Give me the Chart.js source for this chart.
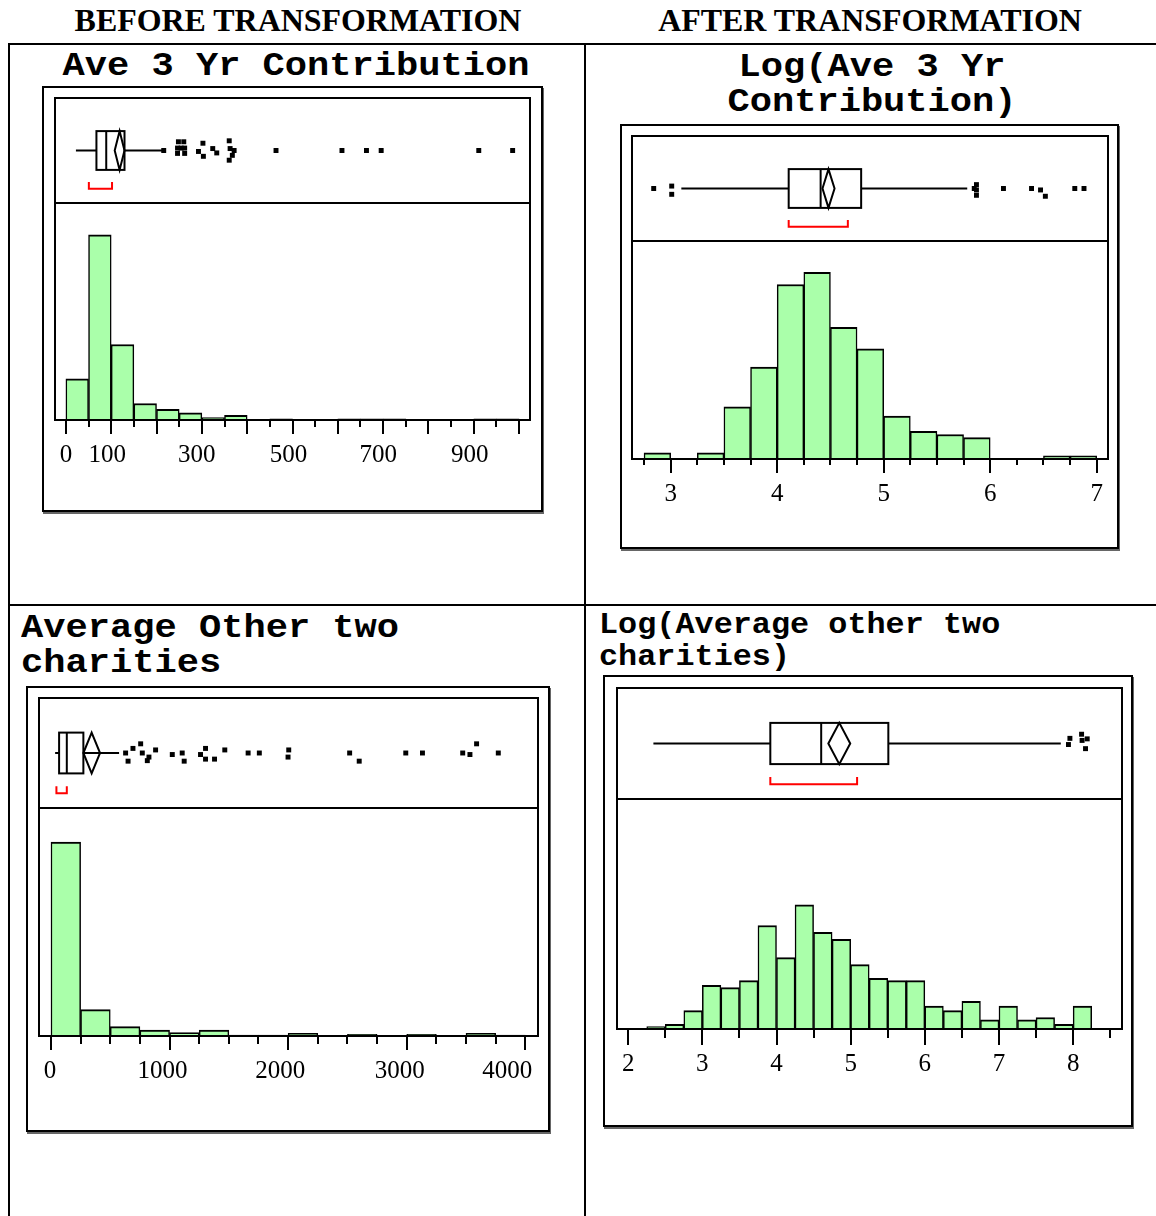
<!DOCTYPE html>
<html>
<head>
<meta charset="utf-8">
<title>Before / after log transformation</title>
<script src="https://cdn.jsdelivr.net/npm/chart.js@4.4.1/dist/chart.umd.min.js"></script>
<style>
  html, body { margin: 0; padding: 0; background: #fff; }
  body { width: 1156px; height: 1216px; position: relative; overflow: hidden; }
  .rule { position: absolute; background: #000; }
  .head { position: absolute; width: 600px; text-align: center; white-space: nowrap;
          font: bold 31px/31px 'Liberation Serif', 'Times New Roman', serif; transform: scaleX(1.03); }
  .title { position: absolute; white-space: pre; font-family: 'Liberation Mono', 'Courier New', monospace;
           font-weight: bold; color: #000; }
  .frame { position: absolute; box-sizing: border-box; border: 2px solid #000; box-shadow: 1px 2px 0 #666; }
  .plotbox { position: absolute; box-sizing: border-box; border: 2px solid #000; }
  canvas { position: absolute; }
</style>
</head>
<body>

<!-- table rules -->
<div class="rule" style="left:8px;top:43px;width:1148px;height:2px"></div>
<div class="rule" style="left:8px;top:43px;width:2px;height:1173px"></div>
<div class="rule" style="left:584px;top:43px;width:2px;height:1173px"></div>
<div class="rule" style="left:8px;top:604px;width:1148px;height:2px"></div>

<!-- column headings -->
<div class="head" style="left:-2px;top:5px">BEFORE TRANSFORMATION</div>
<div class="head" style="left:570px;top:5px">AFTER TRANSFORMATION</div>

<!-- panel titles -->
<div class="title" style="left:-4px;top:49px;width:600px;text-align:center;font-size:34px;line-height:34px;transform:scaleX(1.09)">Ave 3 Yr Contribution</div>
<div class="title" style="left:572px;top:50px;width:600px;text-align:center;font-size:34px;line-height:35px;transform:scaleX(1.09)">Log(Ave 3 Yr
Contribution)</div>
<div class="title" style="left:21px;top:611px;font-size:34px;line-height:35px;transform-origin:0 0;transform:scaleX(1.09)">Average Other two
charities</div>
<div class="title" style="left:599px;top:610px;font-size:29px;line-height:32px;transform-origin:0 0;transform:scaleX(1.098)">Log(Average other two
charities)</div>

<div id="panels"></div>

<script>
// ---------- Ave 3 Yr Contribution ----------
const ave3BinWidth = 50;
const ave3BinStarts = [0, 50, 100, 150, 200, 250, 300, 350, 400, 450, 500, 550, 600, 650, 700, 750, 800, 850, 900, 950];
const ave3Counts    = [35, 157, 64, 14, 9, 6, 2, 4, 0, 1, 0, 0, 1, 1, 1, 0, 0, 0, 1, 1];
const ave3Summary   = [14, 60, 82, 123, 210];          // whisker low, Q1, median, Q3, whisker high
const ave3Diamond   = [101, 112, 123];                 // mean CI low, mean, CI high
const ave3Shortest  = [43, 95];                        // shortest half
const ave3OutX      = [211, 244, 256, 242, 258, 242, 258, 250, 299, 289, 300, 321, 330, 358, 360, 369, 365, 358, 463, 611, 666, 699, 918, 994];
const ave3OutJitter = [0, 0.18, 0.18, 0.05, 0.05, -0.06, -0.06, 0.05, 0.15, -0.02, -0.12, 0.04, -0.05, 0.2, 0.04, 0, -0.1, -0.2, 0, 0, 0, 0, 0, 0];
const ave3Labels    = [0, 100, 300, 500, 700, 900];
const ave3Major     = [0, 100, 200, 300, 400, 500, 600, 700, 800, 900, 1000];
const ave3Minor     = [50, 150, 250, 350, 450, 550, 650, 750, 850, 950];

// ---------- Log(Ave 3 Yr Contribution) ----------
const logAve3BinWidth = 0.25;
const logAve3BinStarts = [2.75, 3, 3.25, 3.5, 3.75, 4, 4.25, 4.5, 4.75, 5, 5.25, 5.5, 5.75, 6, 6.25, 6.5, 6.75];
const logAve3Counts    = [2, 0, 2, 17, 30, 57, 61, 43, 36, 14, 9, 8, 7, 0, 0, 1, 1];
const logAve3Summary   = [3.07, 4.095, 4.40, 4.787, 5.80];
const logAve3Diamond   = [4.418, 4.475, 4.533];
const logAve3Shortest  = [4.095, 4.66];
const logAve3OutX      = [2.806, 2.978, 2.978, 5.888, 5.867, 5.888, 5.888, 6.146, 6.414, 6.50, 6.546, 6.827, 6.915];
const logAve3OutJitter = [0, 0.05, -0.12, 0.08, 0, -0.03, -0.14, 0, 0, -0.03, -0.16, 0, 0];
const logAve3Labels    = [3, 4, 5, 6, 7];
const logAve3Major     = [3, 4, 5, 6, 7];
const logAve3Minor     = [2.75, 3.25, 3.5, 3.75, 4.25, 4.5, 4.75, 5.25, 5.5, 5.75, 6.25, 6.5, 6.75];

// ---------- Average Other two charities ----------
const other2BinWidth = 250;
const other2BinStarts = [0, 250, 500, 750, 1000, 1250, 1500, 1750, 2000, 2250, 2500, 2750, 3000, 3250, 3500, 3750];
const other2Counts    = [228, 31, 11, 7, 4, 7, 1, 1, 3, 0, 2, 0, 2, 0, 3, 1];
const other2Summary   = [3, 37, 103, 245, 551];
const other2Diamond   = [245, 316, 388];
const other2Shortest  = [14, 103];
const other2OutX      = [607, 628, 670, 736, 750, 793, 807, 864, 1007, 1092, 1109, 1249, 1292, 1292, 1369, 1457, 1657, 1753, 2005, 1999, 2527, 2609, 3008, 3151, 3496, 3558, 3615, 3801];
const other2OutJitter = [0, -0.16, 0.09, 0.18, 0, -0.15, -0.08, 0.06, -0.03, 0, -0.16, -0.03, 0.09, -0.12, -0.12, 0.06, 0, 0, 0.06, -0.08, 0, -0.16, 0, 0, 0, -0.03, 0.18, 0];
const other2Labels    = [0, 1000, 2000, 3000, 4000];
const other2Major     = [0, 1000, 2000, 3000, 4000];
const other2Minor     = [250, 500, 750, 1250, 1500, 1750, 2250, 2500, 2750, 3250, 3500, 3750];

// ---------- Log(Average other two charities) ----------
const logOther2BinWidth = 0.25;
const logOther2BinStarts = [2.25, 2.5, 2.75, 3, 3.25, 3.5, 3.75, 4, 4.25, 4.5, 4.75, 5, 5.25, 5.5, 5.75, 6, 6.25, 6.5, 6.75, 7, 7.25, 7.5, 7.75, 8];
const logOther2Counts    = [1, 2, 8, 19, 18, 21, 45, 31, 54, 42, 39, 28, 22, 21, 21, 10, 8, 12, 4, 10, 4, 5, 2, 10];
const logOther2Summary   = [2.293, 3.895, 4.592, 5.512, 7.875];
const logOther2Diamond   = [4.69, 4.84, 4.99];
const logOther2Shortest  = [3.895, 5.084];
const logOther2OutX      = [8.0, 7.98, 8.16, 8.167, 8.237, 8.214];
const logOther2OutJitter = [0.1, -0.02, 0.18, 0.06, 0.09, -0.1];
const logOther2Labels    = [2, 3, 4, 5, 6, 7, 8];
const logOther2Major     = [2, 3, 4, 5, 6, 7, 8];
const logOther2Minor     = [2.5, 3.5, 4.5, 5.5, 6.5, 7.5, 8.5];

// Page geometry of each panel (outer frame, inner plot box, axis range, label nudges in px)
const panels = [
  { frame: [43, 87, 542, 511], box: { L: 55, R: 530, T: 98, D: 203, B: 420 }, xMin: -24, xMax: 1024, yMax: 184,
    bins: ave3BinStarts, width: ave3BinWidth, counts: ave3Counts, summary: ave3Summary, diamond: ave3Diamond,
    shortest: ave3Shortest, outX: ave3OutX, outJ: ave3OutJitter, labels: ave3Labels, major: ave3Major, minor: ave3Minor,
    majorLen: 14, minorLen: 7, nudge: [0, -4, -5, -4, -5, -4] },
  { frame: [621, 125, 1118, 548], box: { L: 632, R: 1108, T: 136, D: 241, B: 459 }, xMin: 2.637, xMax: 7.106, yMax: 71.2,
    bins: logAve3BinStarts, width: logAve3BinWidth, counts: logAve3Counts, summary: logAve3Summary, diamond: logAve3Diamond,
    shortest: logAve3Shortest, outX: logAve3OutX, outJ: logAve3OutJitter, labels: logAve3Labels, major: logAve3Major, minor: logAve3Minor,
    majorLen: 14, minorLen: 6, nudge: [0, 0, 0, 0, 0] },
  { frame: [27, 687, 549, 1131], box: { L: 39, R: 538, T: 698, D: 808, B: 1036 }, xMin: -101, xMax: 4107, yMax: 268,
    bins: other2BinStarts, width: other2BinWidth, counts: other2Counts, summary: other2Summary, diamond: other2Diamond,
    shortest: other2Shortest, outX: other2OutX, outJ: other2OutJitter, labels: other2Labels, major: other2Major, minor: other2Minor,
    majorLen: 14, minorLen: 8, nudge: [-1, -7, -8, -7, -18] },
  { frame: [604, 676, 1132, 1126], box: { L: 617, R: 1122, T: 688, D: 799, B: 1029 }, xMin: 1.849, xMax: 8.659, yMax: 100,
    bins: logOther2BinStarts, width: logOther2BinWidth, counts: logOther2Counts, summary: logOther2Summary, diamond: logOther2Diamond,
    shortest: logOther2Shortest, outX: logOther2OutX, outJ: logOther2OutJitter, labels: logOther2Labels, major: logOther2Major, minor: logOther2Minor,
    majorLen: 16, minorLen: 9, nudge: [0, 0, 0, 0, 0, 0, 0] }
];

const BAR_FILL = '#aaffaa';
const AXIS_PAD = 40;     // side room in the histogram canvas for edge labels
const AXIS_H = 60;       // height reserved under the histogram for the axis
const LABEL_GAP = 23;    // distance from the axis line to the top of the label box
const LABEL_FONT = "25px 'Liberation Serif', 'Times New Roman', serif";

// Tick marks of two lengths and the value labels along the bottom of the histogram
const tickMarks = {
  id: 'tickMarks',
  afterDraw(chart, args, o) {
    const { ctx, chartArea, scales: { x } } = chart;
    ctx.save();
    ctx.strokeStyle = '#000';
    ctx.lineWidth = 2;
    const mark = (v, len) => {
      const px = Math.round(x.getPixelForValue(v));
      ctx.beginPath();
      ctx.moveTo(px, chartArea.bottom);
      ctx.lineTo(px, chartArea.bottom + len);
      ctx.stroke();
    };
    o.major.forEach(v => mark(v, o.majorLen));
    o.minor.forEach(v => mark(v, o.minorLen));
    ctx.fillStyle = '#000';
    ctx.font = LABEL_FONT;
    ctx.textAlign = 'center';
    ctx.textBaseline = 'top';
    o.labels.forEach((v, i) => {
      ctx.fillText(String(v), x.getPixelForValue(v) + (o.nudge[i] || 0), chartArea.bottom + LABEL_GAP);
    });
    ctx.restore();
  }
};

// Outlier box plot: whiskers, quartile box, median, mean diamond, shortest-half bracket
const boxPlot = {
  id: 'boxPlot',
  beforeDatasetsDraw(chart, args, o) {
    const { ctx, scales: { x, y } } = chart;
    const X = v => x.getPixelForValue(v);
    const Y = v => y.getPixelForValue(v);
    const [lo, q1, med, q3, hi] = o.summary;
    const [ciLo, mean, ciHi] = o.diamond;
    const h = 0.4;
    ctx.save();
    ctx.lineWidth = 2;
    ctx.strokeStyle = '#000';
    ctx.beginPath();
    ctx.moveTo(X(lo), Y(0)); ctx.lineTo(X(q1), Y(0));
    ctx.moveTo(X(q3), Y(0)); ctx.lineTo(X(hi), Y(0));
    ctx.stroke();
    ctx.strokeRect(X(q1), Y(h), X(q3) - X(q1), Y(-h) - Y(h));
    ctx.beginPath();
    ctx.moveTo(X(med), Y(h)); ctx.lineTo(X(med), Y(-h));
    ctx.stroke();
    ctx.beginPath();
    ctx.moveTo(X(ciLo), Y(0));
    ctx.lineTo(X(mean), Y(h));
    ctx.lineTo(X(ciHi), Y(0));
    ctx.lineTo(X(mean), Y(-h));
    ctx.closePath();
    ctx.stroke();
    const [a, b] = o.shortest;
    ctx.strokeStyle = '#ff0000';
    ctx.beginPath();
    ctx.moveTo(X(a), Y(-0.65)); ctx.lineTo(X(a), Y(-0.79));
    ctx.lineTo(X(b), Y(-0.79)); ctx.lineTo(X(b), Y(-0.65));
    ctx.stroke();
    ctx.restore();
  }
};

function addDiv(cls, l, t, w, h) {
  const d = document.createElement('div');
  d.className = cls;
  Object.assign(d.style, { left: l + 'px', top: t + 'px', width: w + 'px', height: h + 'px' });
  document.getElementById('panels').appendChild(d);
  return d;
}

function addCanvas(l, t, w, h) {
  const c = document.createElement('canvas');
  c.width = w; c.height = h;
  Object.assign(c.style, { left: l + 'px', top: t + 'px', width: w + 'px', height: h + 'px' });
  document.getElementById('panels').appendChild(c);
  return c;
}

panels.forEach(p => {
  const [fx1, fy1, fx2, fy2] = p.frame;
  const { L, R, T, D, B } = p.box;
  addDiv('frame', fx1 - 1, fy1 - 1, fx2 - fx1 + 2, fy2 - fy1 + 2);
  addDiv('plotbox', L - 1, T - 1, R - L + 2, B - T + 2);
  addDiv('rule', L - 1, D - 1, R - L + 2, 2);

  // histogram
  const hc = addCanvas(L - AXIS_PAD, D, (R - L) + 2 * AXIS_PAD, (B - D) + AXIS_H);
  new Chart(hc, {
    type: 'bar',
    data: {
      datasets: [{
        data: p.bins.map((s, i) => ({ x: s + p.width / 2, y: p.counts[i] })),
        backgroundColor: BAR_FILL,
        borderColor: '#000',
        borderWidth: { top: 2, left: 1.5, right: 1.5, bottom: 0 },
        barPercentage: 1,
        categoryPercentage: 1
      }]
    },
    options: {
      responsive: false,
      animation: false,
      events: [],
      layout: { padding: { left: AXIS_PAD, right: AXIS_PAD, top: 0, bottom: 0 } },
      plugins: {
        legend: { display: false },
        tooltip: { enabled: false },
        tickMarks: { major: p.major, minor: p.minor, majorLen: p.majorLen, minorLen: p.minorLen,
                     labels: p.labels, nudge: p.nudge }
      },
      scales: {
        x: {
          type: 'linear',
          min: p.xMin, max: p.xMax,
          offset: false,
          grid: { display: false, drawTicks: false },
          border: { display: true, color: '#000', width: 2, z: 1 },
          afterFit: axis => { axis.height = AXIS_H; },
          ticks: { display: false }
        },
        y: { display: false, min: 0, max: p.yMax }
      }
    },
    plugins: [tickMarks]
  });

  // box plot row
  const bc = addCanvas(L, T, R - L, D - T);
  new Chart(bc, {
    type: 'scatter',
    data: {
      datasets: [{
        data: p.outX.map((v, i) => ({ x: v, y: p.outJ[i] })),
        pointStyle: 'rect',
        pointRadius: 3.5,
        pointBorderWidth: 0,
        pointBackgroundColor: '#000'
      }]
    },
    options: {
      responsive: false,
      animation: false,
      events: [],
      layout: { padding: 0 },
      plugins: {
        legend: { display: false },
        tooltip: { enabled: false },
        boxPlot: { summary: p.summary, diamond: p.diamond, shortest: p.shortest }
      },
      scales: {
        x: { type: 'linear', display: false, min: p.xMin, max: p.xMax },
        y: { type: 'linear', display: false, min: -1, max: 1 }
      }
    },
    plugins: [boxPlot]
  });
});
</script>
</body>
</html>
